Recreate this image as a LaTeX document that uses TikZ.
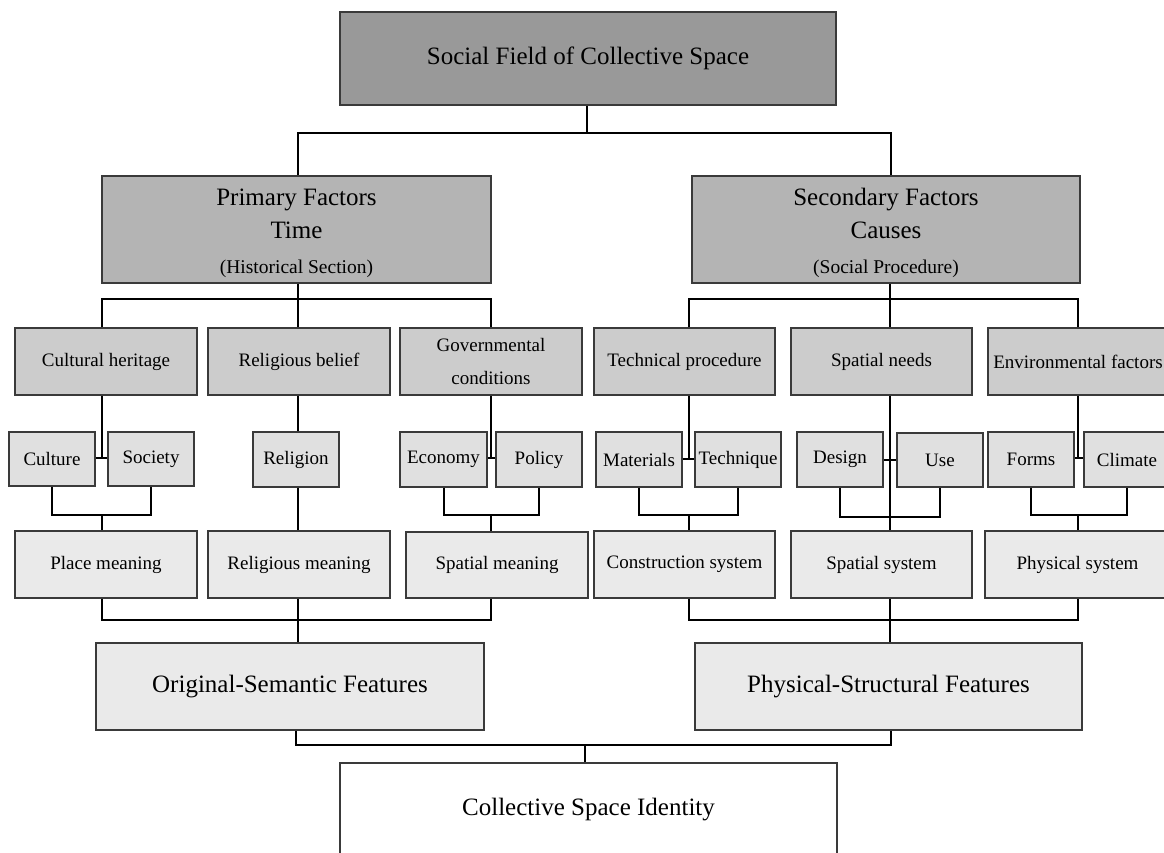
\documentclass[tikz,border=0pt]{standalone}
\usepackage{fontspec}
\setmainfont{Liberation Serif}
\definecolor{c0}{HTML}{999999}
\definecolor{c1}{HTML}{B4B4B4}
\definecolor{c2}{HTML}{CCCCCC}
\definecolor{c3}{HTML}{E0E0E0}
\definecolor{c4}{HTML}{EAEAEA}
\definecolor{bordc}{HTML}{3A3A3A}
\newcommand{\Bx}[8]{\node[box,fill=#6,#7,minimum width={#3-#2},minimum height={#5-#4}] (#1) at ({(#2+#3)/2},{(#4+#5)/2}) {#8};}
\begin{document}
\begin{tikzpicture}[x=1pt,y=-1pt,
  box/.style={draw=bordc, line width=1.5pt, rectangle, inner sep=0pt, align=center, text=black},
  conn/.style={draw=black, line width=2pt},
  big/.style={font=\fontsize{25}{33}\selectfont},
  small/.style={font=\fontsize{19}{33}\selectfont}]
\useasboundingbox (0,0) rectangle (1164,852);
\clip (0,0) rectangle (1164,852);
% boxes
\Bx{top}{340}{836}{12}{105}{c0}{big}{Social Field of Collective Space}
\Bx{prim}{102}{491}{176}{283}{c1}{big}{\rule{0pt}{25pt}Primary Factors\\Time\\[2pt]{\fontsize{19.5}{33}\selectfont (Historical Section)}}
\Bx{sec}{692}{1080}{176}{283}{c1}{big}{\rule{0pt}{25pt}Secondary Factors\\Causes\\[2pt]{\fontsize{19.5}{33}\selectfont (Social Procedure)}}
\Bx{ch}{15}{197}{328}{395}{c2}{small}{Cultural heritage}
\Bx{rb}{208}{390}{328}{395}{c2}{small}{Religious belief}
\Bx{gc}{400}{582}{328}{395}{c2}{small}{Governmental\\conditions}
\Bx{tp}{594}{775}{328}{395}{c2}{small}{Technical procedure}
\Bx{sn}{791}{972}{328}{395}{c2}{small}{Spatial needs}
\Bx{ef}{988}{1168}{328}{395}{c2}{small}{Environmental factors}
\Bx{cu}{9}{95}{432}{486}{c3}{small}{Culture}
\Bx{so}{108}{194}{432}{486}{c3}{small}{Society}
\Bx{re}{253}{339}{432}{487}{c3}{small}{Religion}
\Bx{ec}{400}{487}{432}{487}{c3}{small}{Economy}
\Bx{po}{496}{582}{432}{487}{c3}{small}{Policy}
\Bx{ma}{596}{682}{432}{487}{c3}{small}{Materials}
\Bx{te}{695}{781}{432}{487}{c3}{small}{Technique}
\Bx{de}{797}{883}{432}{487}{c3}{small}{Design}
\Bx{us}{897}{983}{433}{487}{c3}{small}{Use}
\Bx{fo}{988}{1074}{432}{487}{c3}{small}{Forms}
\Bx{cl}{1084}{1170}{432}{487}{c3}{small}{Climate}
\Bx{pm}{15}{197}{531}{598}{c4}{small}{Place meaning}
\Bx{rm}{208}{390}{531}{598}{c4}{small}{Religious meaning}
\Bx{sm}{406}{588}{532}{598}{c4}{small}{Spatial meaning}
\Bx{cs}{594}{775}{531}{598}{c4}{small}{Construction system}
\Bx{ss}{791}{972}{531}{598}{c4}{small}{Spatial system}
\Bx{ps}{985}{1170}{531}{598}{c4}{small}{Physical system}
\Bx{osf}{96}{484}{643}{730}{c4}{big}{Original-Semantic Features}
\Bx{psf}{695}{1082}{643}{730}{c4}{big}{Physical-Structural Features}
\Bx{csi}{340}{837}{763}{856}{white}{big}{Collective Space Identity}
% connector x positions
\coordinate (xP) at (298,0); \coordinate (xS) at (891,0);
\coordinate (xch) at (102,0); \coordinate (xgc) at (491,0);
\coordinate (xtp) at (689,0); \coordinate (xef) at (1078,0);
\coordinate (xo) at (296,0); \coordinate (xf) at (891,0);
% level 0-1
\coordinate (j0) at (587,133);
\draw[conn] (top.south -| j0) -- (j0);
\draw[conn] (prim.north -| xP) |- (j0) -| (sec.north -| xS);
% level 1-2
\coordinate (bL) at (298,299); \coordinate (bR) at (890,299);
\draw[conn] (prim.south -| bL) -- (bL);
\draw[conn] (ch.north -| xch) |- (bL) -| (gc.north -| xgc);
\draw[conn] (bL) -- (rb.north -| bL);
\draw[conn] (sec.south -| bR) -- (bR);
\draw[conn] (tp.north -| xtp) |- (bR) -| (ef.north -| xef);
\draw[conn] (bR) -- (sn.north -| bR);
% level 2-3
\coordinate (k1) at (102,458);
\draw[conn] (ch.south -| k1) -- (k1); \draw[conn] (cu.east |- k1) -- (so.west |- k1);
\draw[conn] (rb.south -| bL) -- (re.north -| bL);
\coordinate (k3) at (491,458);
\draw[conn] (gc.south -| k3) -- (k3); \draw[conn] (ec.east |- k3) -- (po.west |- k3);
\coordinate (k4) at (689,459);
\draw[conn] (tp.south -| k4) -- (k4); \draw[conn] (ma.east |- k4) -- (te.west |- k4);
\coordinate (k5) at (890,460);
\draw[conn] (sn.south -| k5) -- (ss.north -| k5); \draw[conn] (de.east |- k5) -- (us.west |- k5);
\coordinate (k6) at (1078,458);
\draw[conn] (ef.south -| k6) -- (k6); \draw[conn] (fo.east |- k6) -- (cl.west |- k6);
% level 3-4
\coordinate (u1) at (102,515);
\draw[conn] (cu.south) |- (u1) -| (so.south); \draw[conn] (u1) -- (pm.north -| u1);
\draw[conn] (re.south -| bL) -- (rm.north -| bL);
\coordinate (u3) at (491,515);
\draw[conn] (ec.south) |- (u3) -| (po.south); \draw[conn] (u3) -- (sm.north -| u3);
\coordinate (u4) at (689,515);
\draw[conn] (ma.south) |- (u4) -| (te.south); \draw[conn] (u4) -- (cs.north -| u4);
\coordinate (u5) at (890,517);
\draw[conn] (de.south) |- (u5) -| (us.south);
\coordinate (u6) at (1078,515);
\draw[conn] (fo.south) |- (u6) -| (cl.south); \draw[conn] (u6) -- (ps.north -| u6);
% level 4-5
\coordinate (v1) at (298,620);
\draw[conn] (pm.south -| xch) |- (v1) -| (sm.south -| xgc);
\draw[conn] (rm.south -| v1) -- (osf.north -| v1);
\coordinate (v2) at (890,620);
\draw[conn] (cs.south -| xtp) |- (v2) -| (ps.south -| xef);
\draw[conn] (ss.south -| v2) -- (psf.north -| v2);
% level 5-6
\coordinate (w) at (585,745);
\draw[conn] (osf.south -| xo) |- (w) -| (psf.south -| xf);
\draw[conn] (w) -- (csi.north -| w);
\end{tikzpicture}
\end{document}
